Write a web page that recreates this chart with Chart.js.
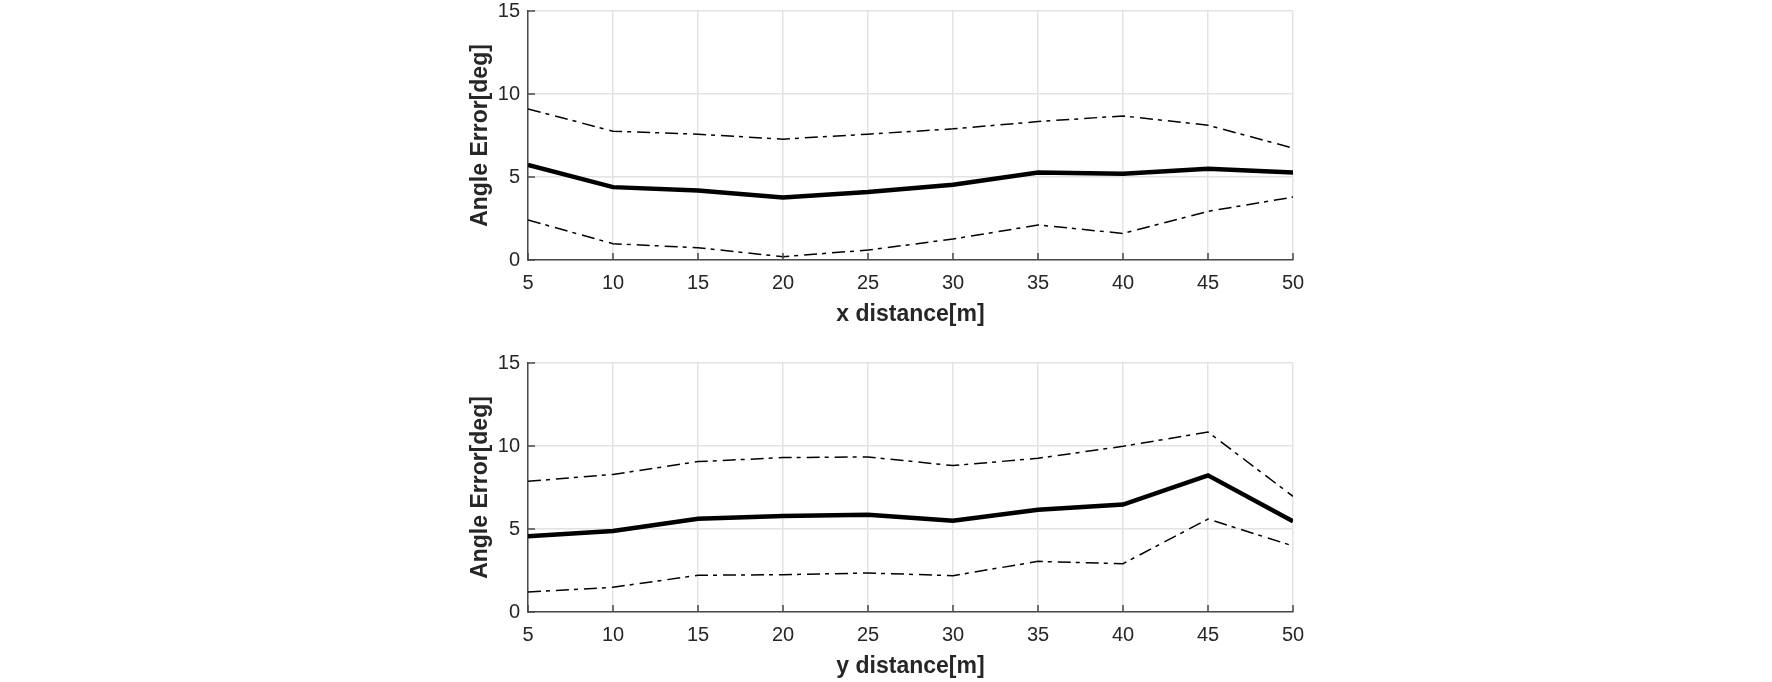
<!DOCTYPE html>
<html>
<head>
<meta charset="utf-8">
<script src="https://cdn.jsdelivr.net/npm/chart.js@4.4.0/dist/chart.umd.min.js"></script>
<style>
  html, body { margin: 0; padding: 0; background: #fff; }
  body { width: 1772px; height: 682px; position: relative; overflow: hidden; }
  .box { position: absolute; left: 0; width: 1772px; height: 330px; }
  #boxX { top: 0; }
  #boxY { top: 352px; }
</style>
</head>
<body>
<div class="box" id="boxX"><canvas id="chartX"></canvas></div>
<div class="box" id="boxY"><canvas id="chartY"></canvas></div>
<script>
// distancias (eixo x dos dois graficos)
const distances = [5, 10, 15, 20, 25, 30, 35, 40, 45, 50];

// grafico de cima: x distance
const xMean  = [5.72, 4.39, 4.19, 3.77, 4.09, 4.53, 5.27, 5.19, 5.49, 5.27];
const xUpper = [9.10, 7.76, 7.58, 7.28, 7.58, 7.90, 8.34, 8.68, 8.12, 6.74];
const xLower = [2.41, 0.98, 0.74, 0.20, 0.60, 1.26, 2.11, 1.60, 2.93, 3.79];

// grafico de baixo: y distance
const yMean  = [4.56, 4.88, 5.62, 5.78, 5.86, 5.50, 6.16, 6.47, 8.23, 5.46];
const yUpper = [7.87, 8.29, 9.06, 9.30, 9.34, 8.82, 9.26, 9.98, 10.84, 6.97];
const yLower = [1.20, 1.49, 2.21, 2.25, 2.35, 2.19, 3.05, 2.91, 5.60, 3.98];

const axisColor = '#4a4a4a';
const textColor = '#262626';
const gridColor = '#e3e3e3';
const fontFamily = '"Liberation Sans", Arial, Helvetica, sans-serif';

function toPoints(values) {
    return distances.map((d, i) => ({ x: d, y: values[i] }));
}

// marcas de tick para dentro (estilo MATLAB)
const innerTicks = {
    id: 'innerTicks',
    afterDraw(chart) {
        const ctx = chart.ctx;
        const area = chart.chartArea;
        const xs = chart.scales.x, ys = chart.scales.y;
        ctx.save();
        ctx.strokeStyle = axisColor;
        ctx.lineWidth = 1.5;
        ctx.beginPath();
        xs.ticks.forEach(t => {
            const px = xs.getPixelForValue(t.value);
            ctx.moveTo(px, area.bottom);
            ctx.lineTo(px, area.bottom - 7);
        });
        ys.ticks.forEach(t => {
            const py = ys.getPixelForValue(t.value);
            ctx.moveTo(area.left, py);
            ctx.lineTo(area.left + 7, py);
        });
        ctx.stroke();
        ctx.restore();
    }
};

function makeChart(canvasId, mean, upper, lower, xTitle) {
    const ctx = document.getElementById(canvasId);
    const dashed = {
        borderColor: '#000',
        borderWidth: 1.5,
        borderDash: [13, 5, 4, 6],
        pointRadius: 0,
        tension: 0,
        fill: false
    };
    return new Chart(ctx, {
        type: 'line',
        data: {
            datasets: [
                Object.assign({ label: 'upper', data: toPoints(upper) }, dashed),
                Object.assign({ label: 'lower', data: toPoints(lower) }, dashed),
                {
                    label: 'mean',
                    data: toPoints(mean),
                    borderColor: '#000',
                    borderWidth: 4.5,
                    pointRadius: 0,
                    tension: 0,
                    fill: false
                }
            ]
        },
        options: {
            responsive: true,
            maintainAspectRatio: false,
            animation: false,
            layout: { padding: { left: 458, right: 479, top: 11, bottom: 0 } },
            plugins: {
                legend: { display: false },
                tooltip: { enabled: false }
            },
            scales: {
                x: {
                    type: 'linear',
                    min: 5,
                    max: 50,
                    afterFit: s => { s.height = 70; },
                    ticks: {
                        stepSize: 5,
                        padding: 11,
                        color: textColor,
                        font: { family: fontFamily, size: 20 }
                    },
                    grid: { color: gridColor, lineWidth: 1.5, drawTicks: false },
                    border: { color: axisColor, width: 1.5 },
                    title: {
                        display: true,
                        text: xTitle,
                        color: textColor,
                        padding: { top: 0, bottom: 2 },
                        font: { family: fontFamily, size: 23, weight: 'bold' }
                    }
                },
                y: {
                    min: 0,
                    max: 15,
                    afterFit: s => {
                        s.width = 70;
                        // sem folga extra para o rotulo "15" no topo
                        s.paddingTop = 0;
                        s.paddingBottom = 0;
                    },
                    ticks: {
                        stepSize: 5,
                        padding: 8,
                        color: textColor,
                        font: { family: fontFamily, size: 20 }
                    },
                    grid: { color: gridColor, lineWidth: 1.5, drawTicks: false },
                    border: { color: axisColor, width: 1.5 },
                    title: {
                        display: true,
                        text: 'Angle Error[deg]',
                        color: textColor,
                        padding: { top: 9, bottom: 0 },
                        font: { family: fontFamily, size: 23, weight: 'bold' }
                    }
                }
            }
        },
        plugins: [innerTicks]
    });
}

makeChart('chartX', xMean, xUpper, xLower, 'x distance[m]');
makeChart('chartY', yMean, yUpper, yLower, 'y distance[m]');
</script>
</body>
</html>
